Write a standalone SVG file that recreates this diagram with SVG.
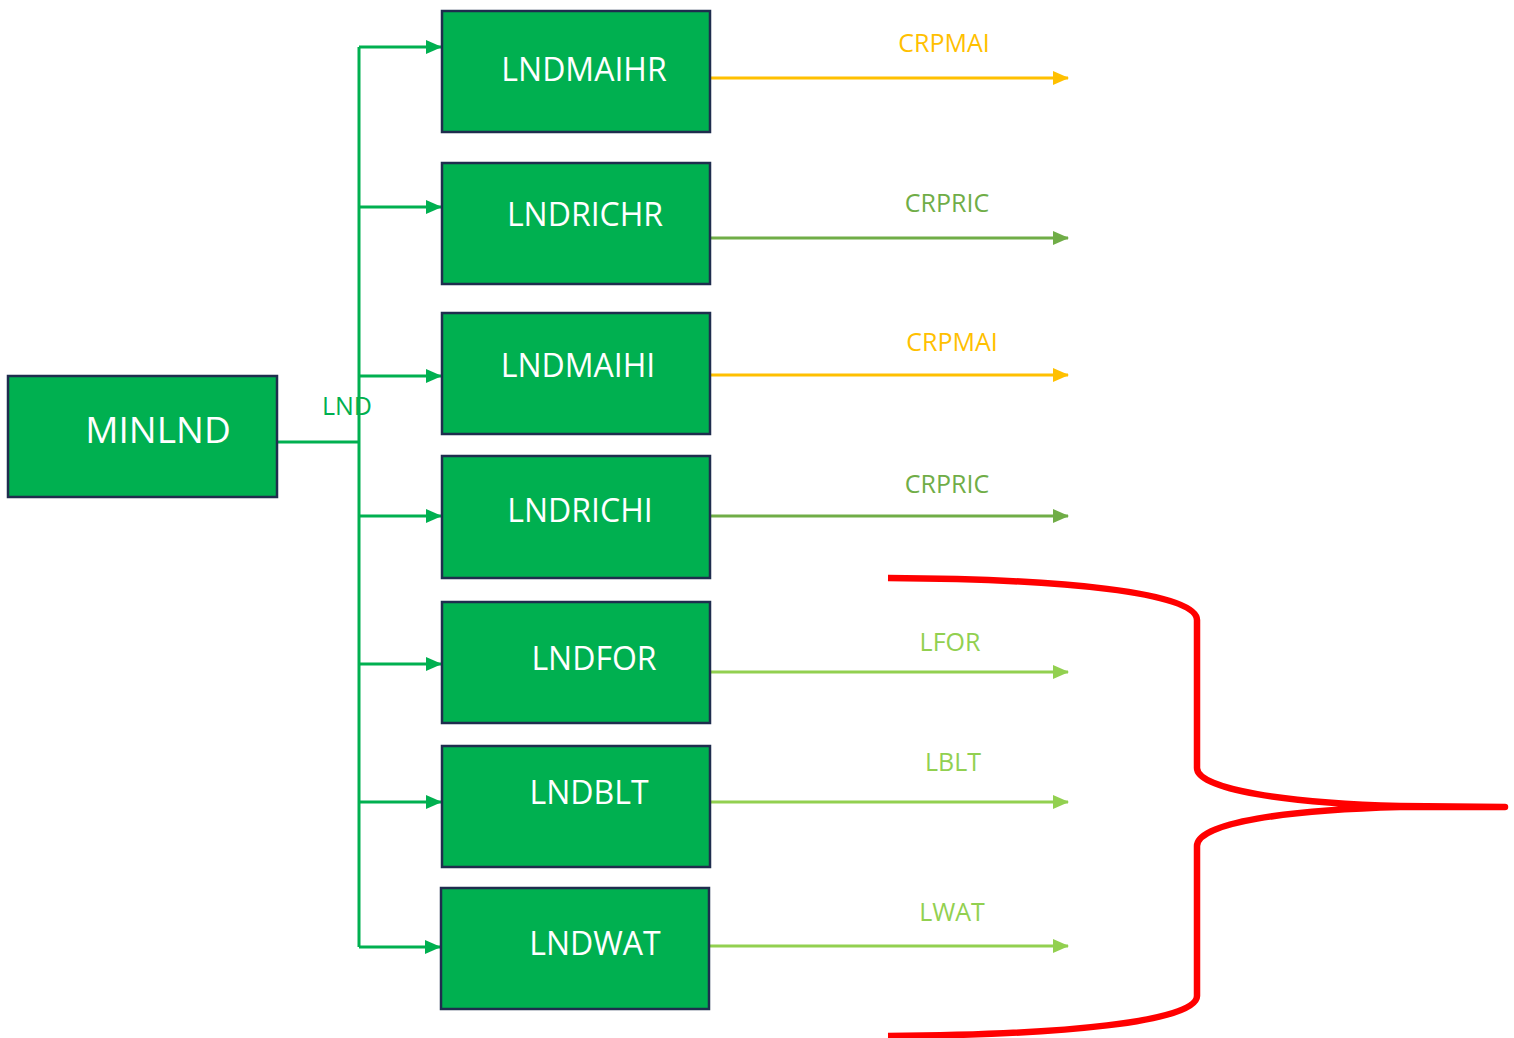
<svg xmlns="http://www.w3.org/2000/svg" width="1514" height="1038" viewBox="0 0 1514 1038">
<style>
.box{fill:#00B050;stroke:#1F2D4E;stroke-width:2.5}
.t{font-family:"Open Sans","Liberation Sans",sans-serif;fill:#fff;text-anchor:middle}
.lbl{font-family:"Open Sans","Liberation Sans",sans-serif;font-size:25px;text-anchor:middle}
.g{stroke:#00B050;stroke-width:3;fill:none}
.c{stroke-width:3;fill:none}
</style>
<defs>
<marker id="ag" markerUnits="userSpaceOnUse" markerWidth="16" markerHeight="14" refX="15" refY="7" orient="auto"><path d="M0,0 L16,7 L0,14 Z" fill="#00B050"/></marker>
<marker id="ao" markerUnits="userSpaceOnUse" markerWidth="16" markerHeight="14" refX="15" refY="7" orient="auto"><path d="M0,0 L16,7 L0,14 Z" fill="#FFC000"/></marker>
<marker id="ad" markerUnits="userSpaceOnUse" markerWidth="16" markerHeight="14" refX="15" refY="7" orient="auto"><path d="M0,0 L16,7 L0,14 Z" fill="#70AD47"/></marker>
<marker id="al" markerUnits="userSpaceOnUse" markerWidth="16" markerHeight="14" refX="15" refY="7" orient="auto"><path d="M0,0 L16,7 L0,14 Z" fill="#92D050"/></marker>
</defs>
<g id="connectors">
<path class="g" d="M277,442 H359 M359,47 V947"/>
<path class="g" d="M359,47 H441" marker-end="url(#ag)"/>
<path class="g" d="M359,207 H441" marker-end="url(#ag)"/>
<path class="g" d="M359,376 H441" marker-end="url(#ag)"/>
<path class="g" d="M359,516 H441" marker-end="url(#ag)"/>
<path class="g" d="M359,664 H441" marker-end="url(#ag)"/>
<path class="g" d="M359,802 H441" marker-end="url(#ag)"/>
<path class="g" d="M359,947 H440" marker-end="url(#ag)"/>
<path class="c" stroke="#FFC000" d="M710,78 H1068" marker-end="url(#ao)"/>
<path class="c" stroke="#70AD47" d="M710,238 H1068" marker-end="url(#ad)"/>
<path class="c" stroke="#FFC000" d="M710,375 H1068" marker-end="url(#ao)"/>
<path class="c" stroke="#70AD47" d="M710,516 H1068" marker-end="url(#ad)"/>
<path class="c" stroke="#92D050" d="M710,672 H1068" marker-end="url(#al)"/>
<path class="c" stroke="#92D050" d="M710,802 H1068" marker-end="url(#al)"/>
<path class="c" stroke="#92D050" d="M709,946 H1068" marker-end="url(#al)"/>
<text class="lbl" x="347" y="415" fill="#00B050">LND</text>
<text class="lbl" x="944" y="52" fill="#FFC000">CRPMAI</text>
<text class="lbl" x="947" y="212" fill="#70AD47">CRPRIC</text>
<text class="lbl" x="952" y="351" fill="#FFC000">CRPMAI</text>
<text class="lbl" x="947" y="493" fill="#70AD47">CRPRIC</text>
<text class="lbl" x="950" y="651" fill="#92D050">LFOR</text>
<text class="lbl" x="953" y="771" fill="#92D050">LBLT</text>
<text class="lbl" x="952" y="921" fill="#92D050">LWAT</text>
</g>
<g id="brace">
<path d="M888,578 C1060,579 1197,592 1197,620 L1197,768 C1197,790 1290,803 1400,806 L1505,807 L1400,807 C1290,810 1197,822 1197,846 L1197,996 C1197,1022 1060,1035 888,1036" fill="none" stroke="#FF0000" stroke-width="6.5" stroke-linejoin="round"/>
</g>
<g id="MINLND"><rect class="box" x="8" y="376" width="269" height="121"/><text class="t" x="158" y="443" font-size="37">MINLND</text></g>
<g id="LNDMAIHR"><rect class="box" x="442" y="11" width="268" height="121"/><text class="t" x="584" y="81" font-size="32">LNDMAIHR</text></g>
<g id="LNDRICHR"><rect class="box" x="442" y="163" width="268" height="121"/><text class="t" x="585" y="226" font-size="32">LNDRICHR</text></g>
<g id="LNDMAIHI"><rect class="box" x="442" y="313" width="268" height="121"/><text class="t" x="578" y="377" font-size="32">LNDMAIHI</text></g>
<g id="LNDRICHI"><rect class="box" x="442" y="456" width="268" height="122"/><text class="t" x="580" y="522" font-size="32">LNDRICHI</text></g>
<g id="LNDFOR"><rect class="box" x="442" y="602" width="268" height="121"/><text class="t" x="594" y="670" font-size="32">LNDFOR</text></g>
<g id="LNDBLT"><rect class="box" x="442" y="746" width="268" height="121"/><text class="t" x="589" y="804" font-size="32">LNDBLT</text></g>
<g id="LNDWAT"><rect class="box" x="441" y="888" width="268" height="121"/><text class="t" x="595" y="955" font-size="32">LNDWAT</text></g>
</svg>
